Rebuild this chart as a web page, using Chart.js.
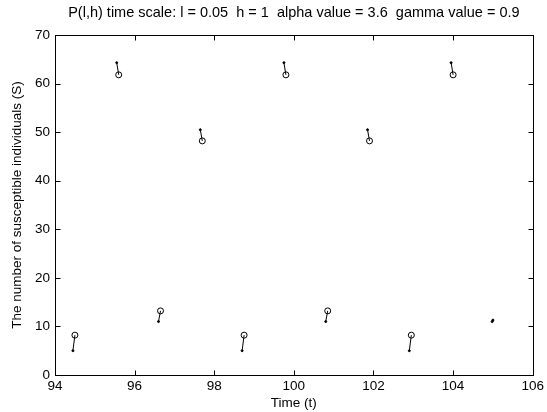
<!DOCTYPE html>
<html>
<head>
<meta charset="utf-8">
<script src="https://cdn.jsdelivr.net/npm/chart.js@4.4.0/dist/chart.umd.min.js"></script>
<style>
  html, body { margin: 0; padding: 0; background: #fff; }
</style>
</head>
<body>
<canvas id="myChart" width="547" height="412"></canvas>
<script>
// each short piece runs from startTimes[i] to endTimes[i]
const startTimes = [94.45, 95.55, 96.6, 97.65, 98.7, 99.75, 100.8, 101.85, 102.9, 103.95, 104.98];
const endTimes   = [94.5, 95.6, 96.65, 97.7, 98.75, 99.8, 100.85, 101.9, 102.95, 104.0, 105.0];
const startValues = [5.0, 64.3, 11.0, 50.5, 5.0, 64.3, 11.0, 50.5, 5.0, 64.3, 11.0];
const endValues   = [8.2, 61.8, 13.2, 48.2, 8.2, 61.8, 13.2, 48.2, 8.2, 61.8, 11.3];
const xTicks = [94, 96, 98, 100, 102, 104, 106];
const yTicks = [0, 10, 20, 30, 40, 50, 60, 70];

const points = [];
const radii = [];
const fills = [];
for (let i = 0; i < startTimes.length; i++) {
  points.push({ x: startTimes[i], y: startValues[i] });
  radii.push(1);
  fills.push('#000');
  points.push({ x: endTimes[i], y: endValues[i] });
  // last piece has no circle at its end
  radii.push(i === startTimes.length - 1 ? 1 : 3);
  fills.push(i === startTimes.length - 1 ? '#000' : 'rgba(0,0,0,0)');
  points.push({ x: endTimes[i], y: null });
  radii.push(0);
  fills.push('#000');
}

const font = { family: 'Liberation Sans, Arial, sans-serif', size: 13.5 };

// MATLAB style box with inward ticks on all four sides
const boxTicks = {
  id: 'boxTicks',
  afterDraw(chart) {
    const { ctx, chartArea: a, scales: { x, y } } = chart;
    ctx.save();
    ctx.strokeStyle = '#000';
    ctx.lineWidth = 1;
    const L = Math.round(a.left) + 0.5, R = Math.round(a.right) + 0.5;
    const T = Math.round(a.top) + 0.5, B = Math.round(a.bottom) + 0.5;
    ctx.strokeRect(L, T, R - L, B - T);
    ctx.beginPath();
    xTicks.forEach(v => {
      const px = Math.round(x.getPixelForValue(v)) + 0.5;
      ctx.moveTo(px, B); ctx.lineTo(px, B - 5);
      ctx.moveTo(px, T); ctx.lineTo(px, T + 5);
    });
    yTicks.forEach(v => {
      const py = Math.round(y.getPixelForValue(v)) + 0.5;
      ctx.moveTo(L, py); ctx.lineTo(L + 5, py);
      ctx.moveTo(R, py); ctx.lineTo(R - 5, py);
    });
    ctx.stroke();
    ctx.restore();
  }
};

const ctx = document.getElementById('myChart').getContext('2d');
const myChart = new Chart(ctx, {
  type: 'scatter',
  data: {
    datasets: [{
      data: points,
      showLine: true,
      spanGaps: false,
      borderColor: '#000',
      borderWidth: 1,
      pointRadius: radii,
      pointBackgroundColor: fills,
      pointBorderColor: '#000',
      pointBorderWidth: 1
    }]
  },
  options: {
    responsive: false,
    animation: false,
    layout: { padding: { top: 0, right: 12, left: 0, bottom: 0 } },
    plugins: {
      legend: { display: false },
      tooltip: { enabled: false },
      title: {
        display: true,
        fullSize: false,
        text: 'P(l,h) time scale: l = 0.05  h = 1  alpha value = 3.6  gamma value = 0.9',
        color: '#000',
        font: { family: font.family, size: 14.5, weight: 'normal' },
        padding: { top: 4, bottom: 13.6 }
      }
    },
    scales: {
      x: {
        type: 'linear',
        min: 94, max: 106,
        afterBuildTicks: s => { s.ticks = xTicks.map(v => ({ value: v })); },
        afterFit: s => { s.height = 37; },
        grid: { display: false, drawTicks: false },
        border: { display: false },
        ticks: { color: '#000', font, padding: 3, maxRotation: 0 },
        title: { display: true, text: 'Time (t)', color: '#000', font, padding: { top: 0, bottom: 1 } }
      },
      y: {
        type: 'linear',
        min: 0, max: 70,
        afterBuildTicks: s => { s.ticks = yTicks.map(v => ({ value: v })); },
        afterFit: s => { s.width = 55; },
        grid: { display: false, drawTicks: false },
        border: { display: false },
        ticks: { color: '#000', font, padding: 5 },
        title: { display: true, text: 'The number of susceptible individuals (S)', color: '#000', font, padding: { top: 9, bottom: 0 } }
      }
    }
  },
  plugins: [boxTicks]
});
</script>
</body>
</html>
